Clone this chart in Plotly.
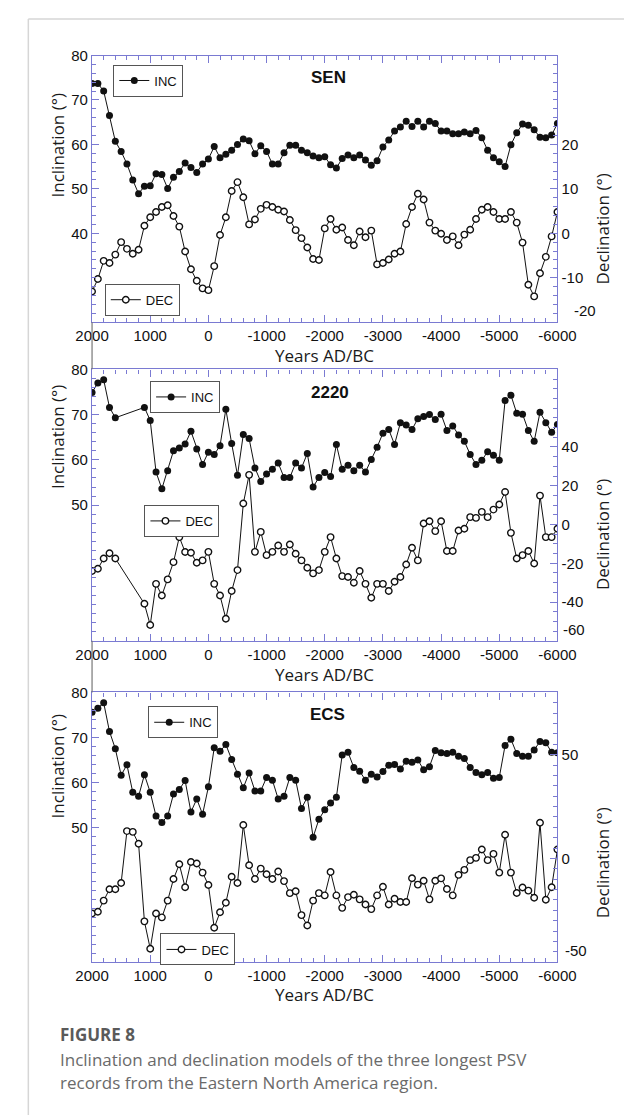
import plotly.graph_objects as go

W, H = 643, 1115

# ---------------- data ----------------
SEN_YEARS = list(range(2000, -6001, -100))
SEN_INC = [73.7, 73.7, 72.0, 66.5, 60.7, 58.4, 55.6, 52.0, 48.9, 50.6, 50.7, 53.4, 53.2, 50.1, 52.6, 53.9, 55.8, 54.8, 53.7, 55.6, 56.7,
           59.5, 57.0, 57.8, 58.7, 60.0, 61.2, 60.8, 57.9, 59.7, 58.4, 55.6, 55.6, 58.1, 59.8, 59.8, 58.7, 58.1, 57.4, 57.0, 57.2,
           55.4, 54.7, 56.8, 57.6, 57.0, 57.6, 56.5, 55.3, 56.3, 59.4, 61.0, 63.0, 63.9, 65.2, 64.0, 65.2, 63.9, 65.2, 64.7, 63.0,
           63.0, 62.4, 62.4, 62.8, 62.4, 63.1, 61.5, 58.7, 57.0, 56.1, 55.0, 59.9, 62.6, 64.6, 64.3, 63.3, 61.6, 61.5, 62.1, 64.7]
SEN_DEC = [-13.1, -10.3, -6.2, -6.7, -4.8, -2.0, -3.5, -4.6, -3.7, 1.7, 3.6, 4.8, 5.9, 6.3, 3.9, 1.5, -4.1, -8.1, -10.7, -12.4, -12.8,
           -7.4, -0.4, 3.6, 9.5, 11.5, 8.1, 2.0, 3.1, 5.5, 6.4, 5.9, 5.3, 4.9, 3.0, 0.7, -1.1, -3.2, -5.8, -6.0, 1.1,
           3.2, 0.8, 1.3, -1.5, -2.7, 0.4, -0.9, 0.6, -7.0, -6.7, -5.9, -4.6, -4.1, 2.1, 5.9, 8.9, 7.6, 2.4, 0.6, -0.1,
           -1.5, -0.7, -2.7, -0.3, 0.8, 3.2, 5.3, 5.9, 4.8, 3.2, 3.2, 4.8, 2.4, -2.1, -11.6, -14.2, -9.0, -5.3, -0.7, 4.8]

R2220_YEARS = [2000, 1900, 1800, 1700, 1600] + list(range(1100, -6001, -100))
R2220_INC = [74.9, 77.0, 77.7, 71.6, 69.3,
             71.6, 68.7, 57.3, 53.6, 57.6, 62.0, 62.6, 63.5, 66.3, 62.4, 59.0, 61.7,
             61.2, 63.1, 71.2, 63.6, 56.6, 65.6, 64.7, 58.2, 55.2, 56.9, 57.9, 59.3, 56.1, 56.1, 59.3, 58.2, 61.4, 54.0, 56.1, 57.2,
             56.3, 63.4, 57.9, 58.8, 57.6, 58.8, 57.3, 60.1, 62.8, 65.9, 66.7, 63.4, 68.2, 67.7, 66.7, 69.1, 69.6, 70.0, 68.9, 70.1,
             66.5, 67.5, 65.5, 64.1, 61.2, 59.0, 59.9, 61.8, 61.0, 59.9, 73.1, 74.3, 70.3, 70.1, 66.5, 64.1, 70.5, 68.2, 66.1, 67.8]
R2220_DEC = [-24.0, -22.8, -17.5, -14.8, -17.5,
             -40.9, -51.8, -30.6, -36.6, -28.3, -19.4, -6.5, -14.2, -14.6, -19.7, -18.5, -14.1,
             -30.6, -36.6, -48.6, -34.3, -23.5, 10.8, 25.6, -14.1, -3.8, -15.8, -14.1, -10.8, -14.1, -10.3, -15.1, -18.5, -22.3, -25.2, -23.5, -14.1,
             -6.5, -17.5, -26.6, -27.1, -30.0, -24.0, -30.6, -37.8, -30.6, -30.6, -34.3, -29.5, -27.1, -20.6, -12.0, -18.5, 0.5, 1.7, -3.4, 1.7,
             -13.7, -13.7, -3.1, -2.2, 3.8, 3.4, 6.5, 3.8, 7.7, 10.3, 16.8, -4.3, -17.5, -15.8, -13.7, -20.1, 14.9, -6.5, -6.5, -2.2]

ECS_YEARS = list(range(2000, -6001, -100))
ECS_INC = [75.6, 76.5, 77.7, 71.3, 67.5, 61.6, 63.9, 57.8, 56.9, 61.7, 57.8, 52.5, 51.1, 52.5, 57.4, 58.4, 60.4, 53.4, 56.3, 52.9, 59.0,
           67.7, 66.9, 68.4, 65.1, 61.8, 58.8, 62.1, 58.1, 58.1, 61.1, 60.5, 56.3, 56.9, 61.1, 60.5, 54.2, 56.7, 47.8, 51.8, 53.9,
           55.4, 56.7, 66.1, 66.7, 63.3, 62.5, 60.5, 61.8, 61.2, 62.4, 63.8, 64.0, 63.0, 64.7, 64.5, 65.0, 62.8, 63.5, 67.1, 66.6,
           66.4, 66.7, 65.8, 65.3, 63.3, 62.2, 61.7, 62.2, 60.9, 61.1, 68.2, 69.6, 66.4, 65.8, 65.8, 67.2, 69.1, 68.8, 66.7, 66.6]
ECS_DEC = [-26.5, -25.7, -20.3, -14.8, -14.8, -11.8, 13.2, 12.8, 7.1, -30.3, -43.5, -26.5, -28.4, -20.3, -9.9, -2.8, -13.9, -1.7, -2.4, -6.8, -12.8,
           -33.4, -25.9, -21.3, -8.8, -11.8, 16.1, -3.3, -9.9, -4.9, -7.6, -9.9, -6.3, -10.9, -16.7, -15.8, -27.3, -32.3, -20.3, -16.7, -17.8,
           -6.5, -17.8, -23.8, -18.6, -17.5, -19.7, -22.2, -24.4, -17.8, -13.6, -22.2, -19.4, -21.0, -21.0, -9.5, -12.6, -10.7, -19.7, -10.7, -9.6,
           -14.7, -17.8, -7.9, -5.5, -0.8, 0.3, 4.3, -0.8, 2.2, -6.8, 11.4, -6.8, -16.6, -14.0, -15.5, -18.9, 17.2, -19.9, -13.9, 4.3]

PANEL_NAMES = ["SEN", "2220", "ECS"]
INC_TICKS = [[40, 50, 60, 70, 80], [50, 60, 70, 80], [50, 60, 70, 80]]
DEC_TICKS = [[-20, -10, 0, 10, 20], [-60, -40, -20, 0, 20, 40], [-50, 0, 50]]
DEC_RANGES = [[-20, 40], [-60, 80], [-50, 80]]
DEC_MINOR = [2, 5, 5]
X_TICKS = [2000, 1000, 0, -1000, -2000, -3000, -4000, -5000, -6000]

# ---------------- layout geometry (pixels) ----------------
X0, X1 = 79.5, 572.5
PANELS_PX = [(46.9, 315.7), (363.3, 637.0), (689.0, 961.0)]
INC_TITLE_Y = [137, 431, 763]
DEC_TITLE_Y = [222, 530, 861]
YEARS_TITLE_Y = [349, 671, 994]
NAME_POS = [(330, 69), (332, 387), (329, 711)]
LEG_INC = [(102, 56), (141, 375), (139, 703)]
LEG_DEC = [(93, 277), (135, 500), (152, 932)]
CORNER_LABEL_X = [589, 577, 579]   # bottom right-axis label, lifted off the year labels

AXC = "#7a7ad2"
TICKFONT = dict(family="Liberation Sans, Arial, sans-serif", size=15, color="#111")
TITLEFONT = dict(family="Open Sans, sans-serif", size=17, color="#1a1a1a")


def px(x):
    return x / W


def py(y):
    return 1 - y / H


series = [(SEN_YEARS, SEN_INC, SEN_DEC), (R2220_YEARS, R2220_INC, R2220_DEC), (ECS_YEARS, ECS_INC, ECS_DEC)]

fig = go.Figure()
layout = dict(width=W, height=H, margin=dict(l=0, r=0, t=0, b=0), autosize=False,
              paper_bgcolor="white", plot_bgcolor="white", showlegend=True)
annotations = []
shapes = []

for i, (yrs, inc, dec) in enumerate(series):
    n = i + 1
    xa = "x" if n == 1 else f"x{n}"
    ya_inc = f"y{2 * n - 1}" if n > 1 else "y"
    ya_dec = f"y{2 * n}"
    leg_i = f"legend{2 * n - 1}" if n > 1 else "legend"
    leg_d = f"legend{2 * n}"
    fig.add_trace(go.Scatter(x=yrs, y=inc, xaxis=xa, yaxis=ya_inc, mode="lines+markers", name="INC",
                             line=dict(color="#111", width=1),
                             marker=dict(symbol="circle", size=7, color="#111"),
                             legend=leg_i))
    fig.add_trace(go.Scatter(x=yrs, y=dec, xaxis=xa, yaxis=ya_dec, mode="lines+markers", name="DEC",
                             line=dict(color="#111", width=1),
                             marker=dict(symbol="circle", size=6.5, color="white", line=dict(color="#111", width=1.4)),
                             legend=leg_d))
    top, bot = PANELS_PX[i]
    dom_y = [py(bot), py(top)]
    xkey = "xaxis" if n == 1 else f"xaxis{n}"
    yk_inc = "yaxis" if n == 1 else f"yaxis{2 * n - 1}"
    yk_dec = f"yaxis{2 * n}"
    layout[xkey] = dict(domain=[px(X0), px(X1)], anchor=ya_inc, range=[2000, -6000],
                        tickmode="array", tickvals=X_TICKS, ticktext=[str(v) for v in X_TICKS],
                        ticks="inside", ticklen=7, tickcolor=AXC, tickwidth=1,
                        minor=dict(ticks="inside", ticklen=4, tickcolor=AXC, tickmode="linear", tick0=0, dtick=200, showgrid=False),
                        showline=True, linecolor=AXC, linewidth=1.3, mirror="ticks",
                        showgrid=False, zeroline=False, tickfont=TICKFONT)
    layout[yk_inc] = dict(domain=dom_y, anchor=xa, range=[20, 80], side="left",
                          tickmode="array", tickvals=INC_TICKS[i], ticktext=[str(v) for v in INC_TICKS[i]],
                          ticks="inside", ticklen=7, tickcolor=AXC, tickwidth=1,
                          minor=dict(ticks="inside", ticklen=4, tickcolor=AXC, tickmode="linear", tick0=20, dtick=2, showgrid=False),
                          showline=True, linecolor=AXC, linewidth=1.3,
                          showgrid=False, zeroline=False, tickfont=TICKFONT)
    dec_text = [str(v) for v in DEC_TICKS[i]]
    dec_text[0] = ""  # lowest label drawn separately, slightly lifted
    layout[yk_dec] = dict(domain=dom_y, anchor=xa, overlaying=ya_inc, range=DEC_RANGES[i], side="right",
                          tickmode="array", tickvals=DEC_TICKS[i], ticktext=dec_text,
                          ticks="inside", ticklen=7, tickcolor=AXC, tickwidth=1,
                          minor=dict(ticks="inside", ticklen=4, tickcolor=AXC, tickmode="linear",
                                     tick0=DEC_RANGES[i][0], dtick=DEC_MINOR[i], showgrid=False),
                          showline=True, linecolor=AXC, linewidth=1.3,
                          showgrid=False, zeroline=False, tickfont=TICKFONT)
    annotations.append(dict(text=str(DEC_TICKS[i][0]), x=px(CORNER_LABEL_X[i]), y=py(bot - 2),
                            xref="paper", yref="paper", showarrow=False, font=TICKFONT,
                            xanchor="left", yanchor="bottom", borderpad=0))
    legstyle = dict(bordercolor="#555", borderwidth=1, bgcolor="white",
                    font=dict(family="Liberation Sans, Arial, sans-serif", size=13, color="#111"),
                    xanchor="left", yanchor="top", itemwidth=30, tracegroupgap=0)
    layout[leg_i] = dict(x=px(LEG_INC[i][0]), y=py(LEG_INC[i][1]), **legstyle)
    layout[leg_d] = dict(x=px(LEG_DEC[i][0]), y=py(LEG_DEC[i][1]), **legstyle)

    annotations.append(dict(text="Inclination (°)", x=px(43), y=py(INC_TITLE_Y[i]), xref="paper", yref="paper",
                            textangle=-90, showarrow=False, font=TITLEFONT, xanchor="center", yanchor="middle"))
    annotations.append(dict(text="Declination (°)", x=px(620), y=py(DEC_TITLE_Y[i]), xref="paper", yref="paper",
                            textangle=-90, showarrow=False, font=TITLEFONT, xanchor="center", yanchor="middle"))
    annotations.append(dict(text="Years AD/BC", x=px((X0 + X1) / 2), y=py(YEARS_TITLE_Y[i]), xref="paper", yref="paper",
                            showarrow=False, font=TITLEFONT, xanchor="center", yanchor="middle"))
    annotations.append(dict(text=f"<b>{PANEL_NAMES[i]}</b>", x=px(NAME_POS[i][0]), y=py(NAME_POS[i][1]),
                            xref="paper", yref="paper", showarrow=False,
                            font=dict(family="Liberation Sans, Arial, sans-serif", size=17, color="#111"),
                            xanchor="center", yanchor="middle"))

# connector lines between stacked panels
for (a, b) in [(PANELS_PX[0][1], PANELS_PX[1][0]), (PANELS_PX[1][1], PANELS_PX[2][0])]:
    shapes.append(dict(type="line", xref="paper", yref="paper", x0=px(X0), x1=px(X0), y0=py(a), y1=py(b),
                       line=dict(color="#777", width=1.2)))

# card frame
shapes.append(dict(type="line", xref="paper", yref="paper", x0=px(12), x1=1, y0=py(10), y1=py(10),
                   line=dict(color="#d6d6d6", width=1.5)))
shapes.append(dict(type="line", xref="paper", yref="paper", x0=px(12), x1=px(12), y0=py(10), y1=0,
                   line=dict(color="#d6d6d6", width=1.5)))

# caption
annotations.append(dict(text="<b>FIGURE 8</b>", x=px(43), y=py(1034), xref="paper", yref="paper", showarrow=False,
                        font=dict(family="Open Sans, sans-serif", size=17, color="#5a5a5a"),
                        xanchor="left", yanchor="middle"))
annotations.append(dict(text="Inclination and declination models of the three longest PSV", x=px(43), y=py(1059),
                        xref="paper", yref="paper", showarrow=False,
                        font=dict(family="Open Sans, sans-serif", size=17, color="#6a6a6a"),
                        xanchor="left", yanchor="middle"))
annotations.append(dict(text="records from the Eastern North America region.", x=px(43), y=py(1082),
                        xref="paper", yref="paper", showarrow=False,
                        font=dict(family="Open Sans, sans-serif", size=17, color="#6a6a6a"),
                        xanchor="left", yanchor="middle"))

layout["annotations"] = annotations
layout["shapes"] = shapes
fig.update_layout(**layout)
fig.write_html("out.html")
